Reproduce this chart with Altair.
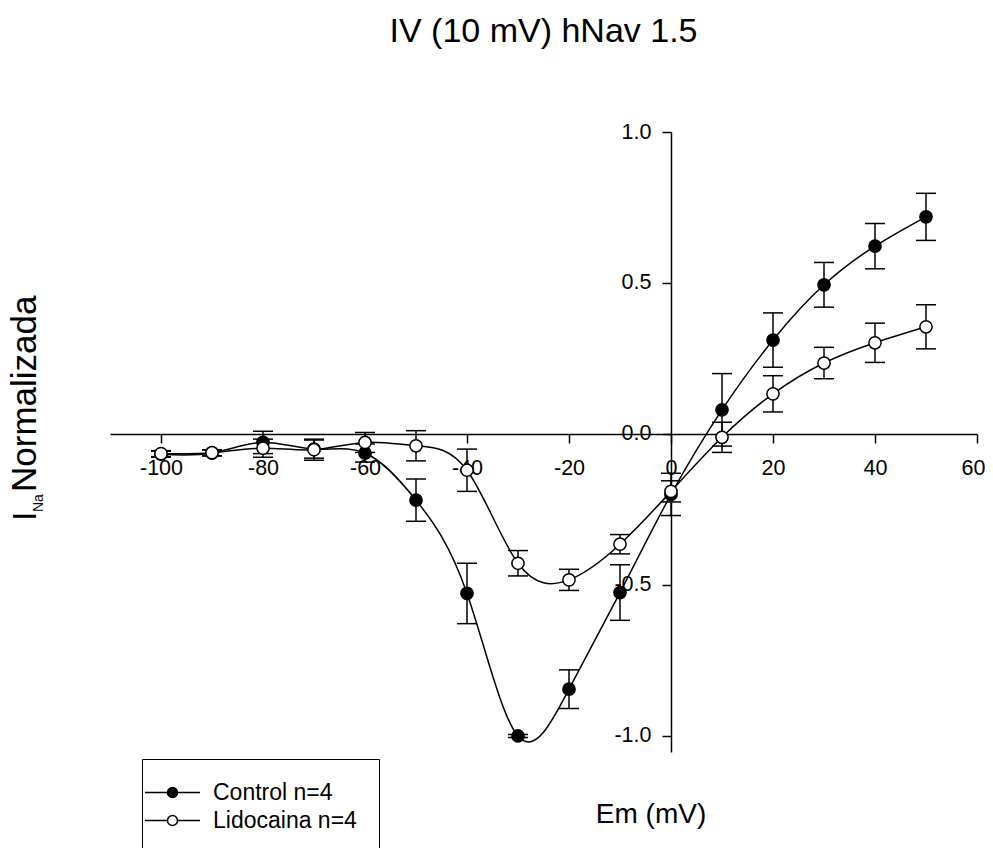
import altair as alt
import pandas as pd

# ---- data ----
voltage = [-100, -90, -80, -70, -60, -50, -40, -30, -20, -10, 0, 10, 20, 30, 40, 50]
control_mean = [-0.067, -0.063, -0.028, -0.050, -0.063, -0.219, -0.528, -1.000, -0.845, -0.525,
                -0.200, 0.080, 0.311, 0.494, 0.622, 0.719]
control_err = [0.010, 0.010, 0.037, 0.030, 0.030, 0.070, 0.100, 0.005, 0.064, 0.092,
               0.070, 0.120, 0.090, 0.074, 0.075, 0.078]
lido_mean = [-0.065, -0.062, -0.047, -0.052, -0.028, -0.039, -0.120, -0.428, -0.483, -0.365,
             -0.190, -0.011, 0.133, 0.235, 0.302, 0.355]
lido_err = [0.010, 0.010, 0.030, 0.035, 0.033, 0.050, 0.070, 0.042, 0.035, 0.032,
            0.035, 0.050, 0.060, 0.052, 0.065, 0.073]
series_names = ["Control n=4", "Lidocaina n=4"]
series_fill = ["black", "white"]
x_ticks = [-100, -80, -60, -40, -20, 0, 20, 40, 60]
y_ticks = [-1.0, -0.5, 0.0, 0.5, 1.0]
title_text = "IV (10 mV) hNav 1.5"
x_title = "Em (mV)"
y_title_parts = ["I", "Na", "Normalizada"]

rows = []
for name, means, errs in [(series_names[0], control_mean, control_err),
                          (series_names[1], lido_mean, lido_err)]:
    for v, m, e in zip(voltage, means, errs):
        rows.append({"series": name, "v": v, "m": m, "lo": m - e, "hi": m + e})
df = pd.DataFrame(rows)

FONT = "Liberation Sans"
W, H = 867, 620
XDOM = [-110, 60]
YDOM = [-1.053, 1.0]

xscale = alt.Scale(domain=XDOM, nice=False, zero=False)
yscale = alt.Scale(domain=YDOM, nice=False, zero=False)

x_off = -(0 - YDOM[0]) / (YDOM[1] - YDOM[0]) * H
y_off = -(0 - XDOM[0]) / (XDOM[1] - XDOM[0]) * W

xaxis = alt.Axis(orient="bottom", offset=x_off, values=x_ticks,
                 labelExpr="toString(datum.value)",
                 labelOffset={"condition": {"test": "datum.value == 60", "value": -4}, "value": 0},
                 tickSize=9, tickWidth=1.5, tickColor="black",
                 domainColor="black", domainWidth=1.5, grid=False,
                 labelFont=FONT, labelFontSize=21.5, labelColor="black", labelPadding=15,
                 labelFlush=False, labelOverlap=False,
                 title=x_title, titleFont=FONT, titleFontSize=28, titleFontWeight="normal",
                 titleColor="black", titleX=540.5, titleY=389, titleBaseline="alphabetic",
                 titleAlign="center", titleAnchor="start")
yaxis = alt.Axis(orient="left", offset=y_off, values=y_ticks,
                 labelExpr="replace(format(datum.value, '.1f'), '\u2212', '-')",
                 tickSize=9, tickWidth=1.5, tickColor="black",
                 domainColor="black", domainWidth=1.5, grid=False,
                 labelFont=FONT, labelFontSize=21.5, labelColor="black", labelPadding=11,
                 labelFlush=False, labelOverlap=False, title=None)

X = alt.X("v:Q", scale=xscale, axis=xaxis)
Y = alt.Y("m:Q", scale=yscale, axis=yaxis)

base = alt.Chart(df)

lines = base.mark_line(interpolate="natural", color="black", strokeWidth=1.5).encode(
    x=X, y=Y, detail="series:N")

bars = base.mark_rule(color="black", strokeWidth=1.5).encode(
    x=X, y=alt.Y("lo:Q", scale=yscale, axis=yaxis), y2="hi:Q")

cap_lo = base.mark_tick(orient="horizontal", size=20, thickness=1.5, color="black", opacity=1).encode(
    x=X, y=alt.Y("lo:Q", scale=yscale, axis=yaxis))
cap_hi = base.mark_tick(orient="horizontal", size=20, thickness=1.5, color="black", opacity=1).encode(
    x=X, y=alt.Y("hi:Q", scale=yscale, axis=yaxis))

legend_symbol = "M-5.5,0L-1,0M1,0L5.5,0M1,0A1,1,0,1,1,-1,0A1,1,0,1,1,1,0Z"
legend = alt.Legend(title=None, orient="none", legendX=32, legendY=627,
                    strokeColor="black", padding=22, symbolType=legend_symbol,
                    symbolSize=100, symbolStrokeColor="black", symbolStrokeWidth=1.5,
                    symbolOffset=-3, labelOffset=29, labelFont=FONT, labelFontSize=23,
                    labelColor="black", rowPadding=4)

points = base.mark_circle(size=150, stroke="black", strokeWidth=1.5, opacity=1).encode(
    x=X, y=Y,
    fill=alt.Fill("series:N", scale=alt.Scale(domain=series_names, range=series_fill),
                  legend=legend))

ytitle_df = pd.DataFrame({"t": [y_title_parts[0]]})
ysub_df = pd.DataFrame({"t": [y_title_parts[1]]})
yrest_df = pd.DataFrame({"t": [y_title_parts[2]]})

yt1 = alt.Chart(ytitle_df).mark_text(angle=270, align="left", baseline="alphabetic",
                                     font=FONT, fontSize=34, color="black").encode(
    x=alt.value(-74), y=alt.value(389), text="t:N")
yt2 = alt.Chart(ysub_df).mark_text(angle=270, align="left", baseline="alphabetic",
                                   font=FONT, fontSize=14, color="black").encode(
    x=alt.value(-67), y=alt.value(380), text="t:N")
yt3 = alt.Chart(yrest_df).mark_text(angle=270, align="left", baseline="alphabetic",
                                    font=FONT, fontSize=35, color="black").encode(
    x=alt.value(-74), y=alt.value(360), text="t:N")

chart = alt.layer(lines, bars, cap_lo, cap_hi, points, yt1, yt2, yt3).properties(
    width=W, height=H,
    autosize=alt.AutoSizeParams(type="none"),
    padding={"left": 102, "top": 124, "right": 8, "bottom": 96},
    title=alt.TitleParams(title_text, font=FONT, fontSize=34, fontWeight="normal",
                          color="black", anchor="middle", baseline="alphabetic", offset=45),
    background="white",
).configure_view(stroke=None)

chart.save("out.html", embed_options={"renderer": "svg", "actions": False})
